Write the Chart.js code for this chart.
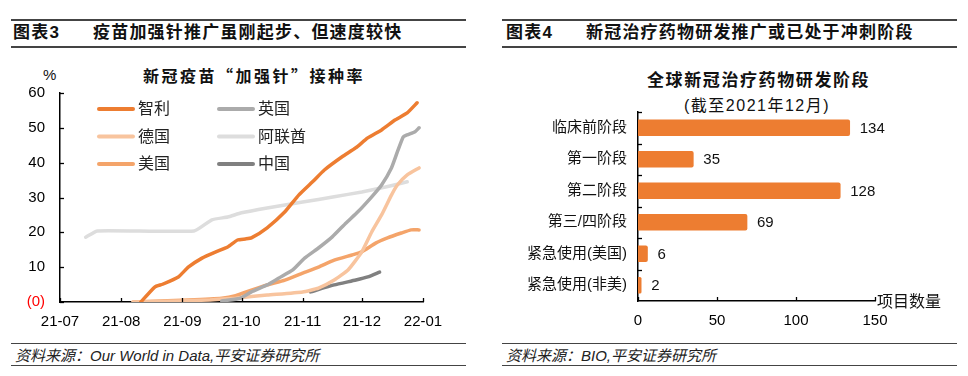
<!DOCTYPE html>
<html><head><meta charset="utf-8">
<script src="https://cdn.jsdelivr.net/npm/chart.js@4.4.1/dist/chart.umd.min.js"></script>
<style>
body{margin:0;width:968px;height:376px;position:relative;background:#fff;overflow:hidden;font-family:"Liberation Sans","Noto Sans CJK SC",sans-serif;color:#111}
.rule{position:absolute;height:0;border-top:2px solid #444}
.t{position:absolute;white-space:nowrap;line-height:20px}
.hdr{font-weight:bold;font-size:17px;letter-spacing:1.2px}
.ct{font-weight:bold;font-size:16px;letter-spacing:2.5px;font-family:"Noto Sans CJK SC",sans-serif}
.src{font-style:italic;font-size:15px;line-height:18px;color:#222}
canvas{position:absolute;top:0}
</style></head><body>
<div class="rule" style="left:11px;width:455px;top:19px"></div>
<div class="rule" style="left:11px;width:455px;top:46px"></div>
<div class="rule" style="left:502px;width:455px;top:19px"></div>
<div class="rule" style="left:502px;width:455px;top:46px"></div>
<div class="t hdr" style="left:13px;top:23px">图表3</div>
<div class="t hdr" style="left:93px;top:23px">疫苗加强针推广虽刚起步、但速度较快</div>
<div class="t hdr" style="left:506px;top:23px">图表4</div>
<div class="t hdr" style="left:586px;top:23px">新冠治疗药物研发推广或已处于冲刺阶段</div>
<div class="t ct" style="left:143px;top:65px">新冠疫苗“加强针”接种率</div>
<div class="t" style="left:43px;top:65px;font-size:15px">%</div>
<div class="t ct" style="left:647px;top:69px;font-size:17px;letter-spacing:1.6px">全球新冠治疗药物研发阶段</div>
<div class="t" style="left:684px;top:96px;font-size:16px;letter-spacing:1.5px">(截至2021年12月)</div>
<div class="rule" style="left:11px;width:455px;top:343px;border-top-width:1.5px"></div>
<div class="rule" style="left:11px;width:455px;top:365px;border-top-width:1.5px"></div>
<div class="rule" style="left:502px;width:455px;top:343px;border-top-width:1.5px"></div>
<div class="rule" style="left:502px;width:455px;top:365px;border-top-width:1.5px"></div>
<div class="t src" style="left:15px;top:347px">资料来源：Our World in Data,平安证券研究所</div>
<div class="t src" style="left:506px;top:347px">资料来源：BIO,平安证券研究所</div>
<canvas id="c1" width="484" height="376" style="left:0"></canvas>
<canvas id="c2" width="484" height="376" style="left:484px"></canvas>
<script>
// ---------- data: left chart (booster rate, %) ----------
const monthTickDates = ['07-01','08-01','09-01','10-01','11-01','12-01','2022-01-01'];
const monthLabels = ['21-07','21-08','21-09','21-10','21-11','21-12','22-01'];

const chileDates = ['08-11','08-18','08-22','08-30','09-04','09-11','09-18','09-24','09-29','10-03','10-06','10-14','10-23','10-30','11-06','11-12','11-21','11-28','12-04','12-11','12-18','12-24','12-29'];
const chileRate  = [0,4.3,5.1,7.2,10,12.6,14.4,15.8,17.8,18.1,18.4,21.3,25.9,30.7,34.5,37.9,41.7,44.3,47.1,49.4,52.3,54.3,57.2];

const ukDates = ['09-21','09-30','10-06','10-14','10-20','10-27','11-02','11-09','11-16','11-23','11-29','12-06','12-11','12-16','12-19','12-22','12-24','12-28','12-30'];
const ukRate  = [0.3,1,2.9,4.9,6.9,9.2,12.6,15.5,18.7,22.7,25.9,30.2,33.6,38.5,43.1,47.4,48,48.9,50];

const deDates = ['08-07','08-31','09-15','09-28','10-14','11-01','11-09','11-17','11-24','12-01','12-06','12-11','12-16','12-19','12-24','12-30'];
const deRate  = [0,0.3,0.6,1.1,2,2.9,4,6.3,9.2,14.4,20.1,25,30.7,33.6,36.5,38.5];

const uaeDates = ['07-14','07-20','09-07','09-16','09-24','10-01','10-14','11-01','11-17','12-01','12-13','12-24'];
const uaeRate  = [18.6,20.4,20.4,23.6,24.4,25.6,27,28.7,30.2,31.6,33,34.5];

const usDates = ['08-07','09-04','09-21','09-28','10-06','10-14','10-23','11-01','11-09','11-17','11-26','12-01','12-08','12-14','12-21','12-26','12-30'];
const usRate  = [0,0.6,1.1,1.8,3.4,4.9,6.3,8.3,10,12,13.5,14.4,16.9,18.4,19.8,20.7,20.7];

const cnDates = ['11-05','11-17','11-28','12-04','12-10'];
const cnRate  = [2.9,4.9,6.3,7.2,8.6];

// ---------- data: right chart ----------
const stageLabels = ['临床前阶段','第一阶段','第二阶段','第三/四阶段','紧急使用(美国)','紧急使用(非美)'];
const stageCounts = [134,35,128,69,6,2];

// ---------- helpers ----------
const FONT = '"Liberation Sans","Noto Sans CJK SC",sans-serif';
Chart.defaults.font.family = FONT;
Chart.defaults.color = '#000';
function dayOf(s){
  let y=2021,m,d;
  const p=s.split('-').map(Number);
  if(p.length===3){[y,m,d]=p;} else {[m,d]=p;}
  return (Date.UTC(y,m-1,d)-Date.UTC(2021,6,1))/86400000;
}
const pts=(ds,vs)=>ds.map((d,i)=>({x:dayOf(d),y:vs[i]}));
const monthTickDays = monthTickDates.map(dayOf);

const series = [
  {label:'智利', data:pts(chileDates,chileRate), color:'#ED7D31'},
  {label:'英国', data:pts(ukDates,ukRate), color:'#ABABAB'},
  {label:'德国', data:pts(deDates,deRate), color:'#F8C49E'},
  {label:'阿联酋', data:pts(uaeDates,uaeRate), color:'#DDDDDD'},
  {label:'美国', data:pts(usDates,usRate), color:'#F4A46A'},
  {label:'中国', data:pts(cnDates,cnRate), color:'#808080'}
];

const inwardTicks1 = {
  id:'inward1',
  afterDraw(chart){
    const {ctx, chartArea:a, scales:{x,y}} = chart;
    ctx.save(); ctx.strokeStyle='#000'; ctx.lineWidth=1.3;
    y.ticks.forEach(t=>{const p=Math.round(y.getPixelForValue(t.value))+0.5; ctx.beginPath(); ctx.moveTo(a.left,p); ctx.lineTo(a.left+4,p); ctx.stroke();});
    x.ticks.forEach(t=>{const p=Math.round(x.getPixelForValue(t.value))+0.5; ctx.beginPath(); ctx.moveTo(p,a.bottom); ctx.lineTo(p,a.bottom-4); ctx.stroke();});
    // legend (2 columns x 3 rows)
    ctx.lineCap='round'; ctx.lineWidth=4; ctx.font='16px '+FONT; ctx.textBaseline='middle'; ctx.textAlign='left';
    chart.data.datasets.forEach((ds,i)=>{
      const col=i%2, row=Math.floor(i/2);
      const x0=a.left+37+col*120, yy=a.top+16+row*27.5;
      ctx.strokeStyle=ds.borderColor; ctx.beginPath(); ctx.moveTo(x0+2,yy); ctx.lineTo(x0+36,yy); ctx.stroke();
      ctx.fillStyle='#222'; ctx.fillText(ds.label,x0+41,yy+1);
    });
    ctx.restore();
  }
};

new Chart(document.getElementById('c1'),{
  type:'line',
  data:{datasets:series.map(s=>({label:s.label,data:s.data,borderColor:s.color,backgroundColor:s.color,borderWidth:3.5,pointRadius:0,tension:0.15,borderCapStyle:'round',borderJoinStyle:'round',fill:false}))},
  options:{
    responsive:false, animation:false, devicePixelRatio:1,
    layout:{padding:{left:12,top:93,right:61,bottom:44}},
    plugins:{legend:{display:false},tooltip:{enabled:false}},
    scales:{
      x:{type:'linear',min:0,max:184,
        afterBuildTicks:ax=>{ax.ticks=monthTickDays.map(v=>({value:v}));},
        afterFit:s=>{s.height=30;},
        grid:{display:false,drawTicks:false},
        border:{display:true,color:'#000',width:1.5},
        ticks:{padding:11,autoSkip:false,maxRotation:0,font:{size:15},color:'#000',
          callback:(v,i)=>monthLabels[i]}},
      y:{min:0,max:60,
        afterFit:s=>{s.width=48;},
        grid:{display:false,drawTicks:false},
        border:{display:true,color:'#000',width:1.5},
        ticks:{stepSize:10,padding:15,font:{size:15},
          color:c=>c.tick&&c.tick.value===0?'#FF0000':'#000',
          callback:v=>v===0?'(0)':v}}
    }
  },
  plugins:[inwardTicks1]
});

const barExtras = {
  id:'barExtras',
  afterDraw(chart){
    const {ctx, chartArea:a, scales:{x,y}} = chart;
    ctx.save(); ctx.strokeStyle='#000'; ctx.lineWidth=1.3;
    x.ticks.forEach(t=>{const p=Math.round(x.getPixelForValue(t.value))+0.5; ctx.beginPath(); ctx.moveTo(p,a.bottom); ctx.lineTo(p,a.bottom-4); ctx.stroke();});
    const n=chart.data.labels.length;
    const step=y.getPixelForValue(1)-y.getPixelForValue(0);
    for(let i=0;i<n;i++){const p=Math.round(y.getPixelForValue(i)-step/2)+0.5; ctx.beginPath(); ctx.moveTo(a.left,p); ctx.lineTo(a.left+4,p); ctx.stroke();}
    ctx.fillStyle='#111'; ctx.font='15px '+FONT; ctx.textBaseline='middle'; ctx.textAlign='left';
    const meta=chart.getDatasetMeta(0);
    meta.data.forEach((bar,i)=>{ctx.fillText(String(chart.data.datasets[0].data[i]),bar.x+10,bar.y+1);});
    ctx.font='16px '+FONT;
    ctx.fillText('项目数量',a.right+2,a.bottom+2);
    ctx.restore();
  }
};

new Chart(document.getElementById('c2'),{
  type:'bar',
  data:{labels:stageLabels,datasets:[{data:stageCounts,backgroundColor:'#ED7D31',barThickness:16,borderRadius:2,borderSkipped:'left'}]},
  options:{
    indexAxis:'y', responsive:false, animation:false, devicePixelRatio:1,
    layout:{padding:{left:20,top:112,right:93,bottom:45}},
    plugins:{legend:{display:false},tooltip:{enabled:false}},
    scales:{
      x:{min:0,max:150,
        afterFit:s=>{s.height=30;},
        grid:{display:false,drawTicks:false},
        border:{display:true,color:'#000',width:1.5},
        ticks:{stepSize:50,padding:11,font:{size:15},color:'#000'}},
      y:{afterFit:s=>{s.width=134;},
        grid:{display:false,drawTicks:false},
        border:{display:true,color:'#000',width:1.5},
        ticks:{padding:11,font:{size:15},color:'#111'}}
    }
  },
  plugins:[barExtras]
});
</script>
</body></html>
